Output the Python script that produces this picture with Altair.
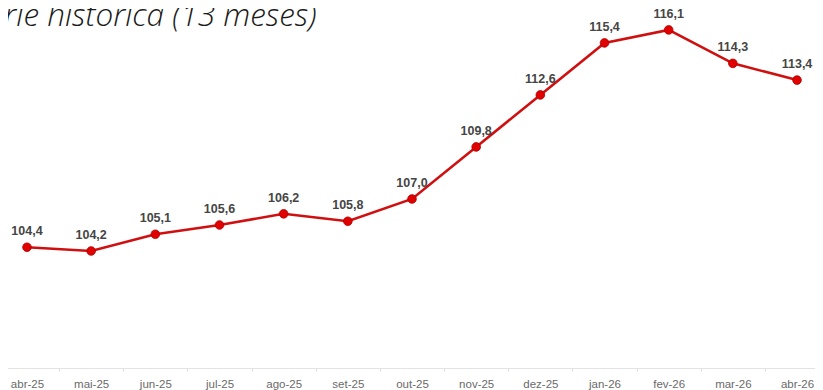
import altair as alt
import pandas as pd

months = ["abr-25", "mai-25", "jun-25", "jul-25", "ago-25", "set-25", "out-25",
          "nov-25", "dez-25", "jan-26", "fev-26", "mar-26", "abr-26"]
values = [104.4, 104.2, 105.1, 105.6, 106.2, 105.8, 107.0,
          109.8, 112.6, 115.4, 116.1, 114.3, 113.4]
title_text = "Série histórica (13 meses)"

df = pd.DataFrame({
    "mes": months,
    "valor": values,
    "rotulo": [f"{v:.1f}".replace(".", ",") for v in values],
})

x = alt.X("mes:N", sort=months, title=None,
          scale=alt.Scale(type="band", paddingInner=0, paddingOuter=0, range=[-13.1, 821.1]),
          axis=alt.Axis(labelAngle=0, labelFont="Liberation Sans", labelFontSize=11.5,
                        labelColor="#6a6a6a", labelPadding=7, tickSize=3, tickColor="#dddddd",
                        tickBand="extent", domainColor="#e3e3e3", domainWidth=1,
                        grid=False, labelOverlap=False))
y = alt.Y("valor:Q", title=None,
          scale=alt.Scale(domain=[97.9, 117.28], zero=False, nice=False),
          axis=None)

base = alt.Chart(df).encode(x=x, y=y)

line = base.mark_line(color="#d01010", strokeWidth=2.6)
pts = base.mark_point(filled=True, color="#e00000", size=75, opacity=1,
                      stroke="#b00000", strokeWidth=0.8)
labels = base.mark_text(dy=-16, font="Liberation Sans", fontSize=12.5, fontWeight="bold",
                        color="#454545").encode(text="rotulo:N")

title = alt.Chart(pd.DataFrame({"t": [title_text]})).mark_text(
    align="left", baseline="alphabetic", font="Open Sans", fontSize=31.5,
    fontStyle="italic", fontWeight=300, color="#1a1a1a"
).encode(text="t:N", x=alt.value(-35), y=alt.value(18))

chart = alt.layer(line, pts, labels, title).properties(
    width=807, height=360,
    autosize=alt.AutoSizeParams(type="none"),
    padding={"left": 0, "top": 0, "right": 0, "bottom": 22},
).configure_view(stroke=None)

chart.save("out.html", embed_options={"renderer": "svg", "actions": False})
